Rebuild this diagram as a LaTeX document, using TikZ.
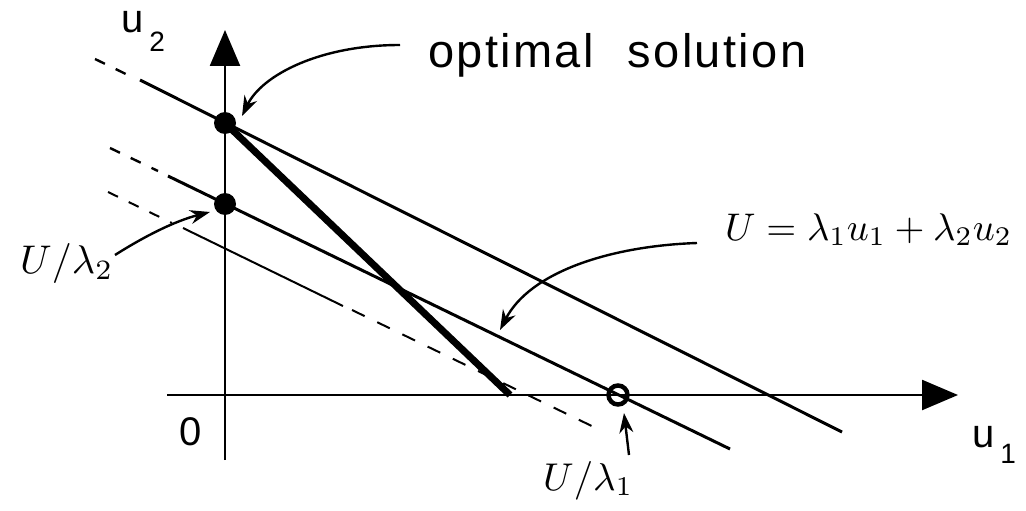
\documentclass[tikz,border=0pt]{standalone}
\usepackage{fontspec}
\setmainfont{Liberation Sans}
\usepackage{graphicx}
\usetikzlibrary{arrows.meta}
\tikzset{
  axis/.style={line width=2.4pt, -{Triangle[length=36pt,width=30pt]}},
  ln/.style={line width=3pt},
  thinln/.style={line width=2pt},
  ext/.style={line width=2.4pt, dash pattern=on 11pt off 12pt},
  best/.style={line width=7pt},
  dot/.style={circle, fill=black, minimum size=22pt, inner sep=0pt},
  ring/.style={circle, draw=black, line width=4.5pt, minimum size=19pt, inner sep=0pt},
  pointer/.style={line width=2.4pt, -{Stealth[length=20pt,width=14pt]}},
  lbl/.style={inner sep=0pt, font=\fontsize{47}{52}\selectfont\addfontfeatures{LetterSpace=5}},
  axlbl/.style={inner sep=0pt, font=\fontsize{40}{44}\selectfont},
}
\newcommand{\subdigit}[2]{\raisebox{-#2}{\fontsize{28}{30}\selectfont #1}}
\begin{document}
\begin{tikzpicture}[x=1pt,y=-1pt]
\useasboundingbox (0,0) rectangle (1026,511);
% axes
\coordinate (ybot) at (225,460);
\coordinate (ytop) at (225,30);
\coordinate (xleft) at (167,395);
\coordinate (xright) at (958,395);
\draw[axis] (ybot) -- (ytop);
\draw[axis] (xleft) -- (xright);
% upper line (optimal)
\coordinate (a0) at (95,59);
\coordinate (a1) at (132,77);
\coordinate (a2) at (140,80);
\coordinate (a3) at (842,432);
\coordinate (opt) at (225,123);
\draw[ext] (a0) -- (a1);
\draw[ln] (a2) -- (a3);
% middle line
\coordinate (m0) at (110,148);
\coordinate (m1) at (158,171);
\coordinate (m2) at (168,176);
\coordinate (m3) at (730,449);
\draw[ext] (m0) -- (m1);
\draw[ln] (m2) -- (m3);
% lower line
\coordinate (l0) at (108,192);
\coordinate (l1) at (172,223);
\coordinate (l2) at (183,228);
\coordinate (l3) at (343,306);
\coordinate (l4) at (352,310);
\coordinate (l5) at (600,430);
\draw[ext, line width=2pt] (l0) -- (l1);
\draw[thinln] (l2) -- (l3);
\draw[thinln, dash pattern=on 14pt off 14pt] (l4) -- (l5);
% thick segment
\coordinate (b) at (510,395);
\draw[best] (opt) -- (b);
% points
\node[dot] (P) at (opt) {};
\node[dot] (Q) at (225,204) {};
\node[ring] (R) at (618,395) {};
% labels
\node[lbl, anchor=base west] (os) at (428,68) {optimal\hspace{34pt}solution};
\node[axlbl, anchor=base west] (u2) at (121,33) {u\hspace{6pt}\subdigit{2}{19pt}};
\node[axlbl, anchor=base west] (u1) at (972,447) {u\hspace{6pt}\subdigit{1}{16pt}};
\node[axlbl] (zero) at (191,432) {0};
\node[inner sep=0pt, anchor=base west] (eq) at (725,240) {\resizebox{287pt}{!}{$U=\lambda_1u_1+\lambda_2u_2$}};
\node[inner sep=0pt, anchor=base west] (L2) at (20,273) {\resizebox{93pt}{!}{$U/\lambda_2$}};
\node[inner sep=0pt, anchor=base west] (L1) at (543,490) {\resizebox{90pt}{!}{$U/\lambda_1$}};
% pointers
\coordinate (t1) at (400,45);
\coordinate (t2) at (697,243);
\coordinate (t3) at (115,255);
\coordinate (t4) at (629,455);
\draw[pointer] (t1) .. controls (320,45) and (262,75) .. (242,116);
\draw[pointer] (t2) .. controls (610,246) and (530,272) .. (500,330);
\draw[pointer] (t3) .. controls (145,236) and (175,221) .. (210,212);
\draw[pointer] (t4) -- (624,413);
\end{tikzpicture}
\end{document}
